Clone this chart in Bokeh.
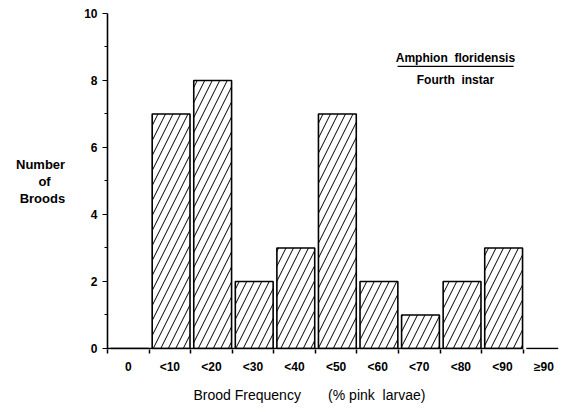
from bokeh.plotting import figure
from bokeh.models import Range1d, FixedTicker, Label, ColumnDataSource, Title
from bokeh.embed import file_html
from bokeh.resources import INLINE

# Broods of Amphion floridensis (fourth instar) by share of pink larvae
categories = ["0", "<10", "<20", "<30", "<40", "<50", "<60", "<70", "<80", "<90", "\u226590"]
broods = [0, 7, 8, 2, 3, 7, 2, 1, 2, 3, 0]
y_ticks = [0, 2, 4, 6, 8, 10]
y_minor = [1, 3, 5, 7, 9]

FONT = "Liberation Sans"

idx = list(range(len(categories)))
centers = [i + 0.5 for i in idx]
src = ColumnDataSource(dict(x=[c + 0.03 for c in centers], top=broods, cat=categories))

p = figure(width=564, height=412, output_backend="svg", toolbar_location=None,
           x_range=Range1d(0, 10.85), y_range=Range1d(-0.03, 10))
p.min_border_left = 107
p.min_border_right = 6
p.min_border_top = 13
p.min_border_bottom = 63
p.outline_line_color = None
p.xgrid.visible = False
p.ygrid.visible = False
p.background_fill_color = "white"
p.border_fill_color = "white"

# hatched bars
p.vbar(x="x", top="top", bottom=0, width=0.91, source=src,
       fill_color="white", line_color="black", line_width=1.6,
       hatch_pattern="/", hatch_scale=15, hatch_weight=1.0, hatch_color="black")

# x axis: labels at slot centres, short ticks at slot boundaries
xa = p.xaxis[0]
xa.ticker = FixedTicker(ticks=centers, minor_ticks=list(range(0, 11)))
xa.major_label_overrides = {c: lab for c, lab in zip(centers, categories)}
xa.axis_line_color = None
xa.major_tick_line_color = None
xa.minor_tick_in = 0
xa.minor_tick_out = 4
xa.minor_tick_line_width = 1.5
xa.minor_tick_line_color = "black"
xa.major_label_standoff = 4
xa.major_label_text_font = FONT
xa.major_label_text_font_style = "bold"
xa.major_label_text_font_size = "12px"
xa.major_label_text_color = "black"

# baseline only across the first ten slots
p.segment(x0=[0], y0=[0], x1=[10], y1=[0], line_color="black", line_width=1.6)

ya = p.yaxis[0]
ya.ticker = FixedTicker(ticks=y_ticks, minor_ticks=y_minor)
ya.axis_line_width = 1.6
ya.axis_line_color = "black"
ya.major_tick_in = 0
ya.major_tick_out = 5
ya.minor_tick_in = 0
ya.minor_tick_out = 3
ya.major_tick_line_width = 1.2
ya.minor_tick_line_width = 1.0
ya.major_label_standoff = 5
ya.major_label_text_font = FONT
ya.major_label_text_font_style = "bold"
ya.major_label_text_font_size = "12px"
ya.major_label_text_color = "black"
# middle line padded so that it sits centred under "Number"
ya.axis_label = "Number\nof\u00a0\u00a0\u00a0\u00a0\nBroods"
ya.axis_label_orientation = "horizontal"
ya.axis_label_standoff = 16
ya.axis_label_text_font = FONT
ya.axis_label_text_font_style = "bold"
ya.axis_label_text_font_size = "13px"
ya.axis_label_text_color = "black"
ya.axis_label_text_align = "center"
ya.axis_label_text_line_height = 1.15

# x axis title, set in its own panel below the tick labels
p.add_layout(Title(text="Brood Frequency\u00a0\u00a0\u00a0\u00a0\u00a0\u00a0 (% pink\u00a0 larvae)",
                   align="left", offset=86, standoff=16, text_font=FONT,
                   text_font_size="14px", text_font_style="normal",
                   text_color="black"), "below")

def lab(x, y, text, size="12px", style="bold", align="center"):
    p.add_layout(Label(x=x, y=y, text=text, text_font=FONT, text_font_size=size,
                       text_font_style=style, text_align=align,
                       text_baseline="middle", text_color="black"))

# species and stage
lab(8.37, 8.66, "Amphion\u00a0 floridensis")
lab(8.37, 8.0, "Fourth\u00a0 instar")
p.segment(x0=[6.98], y0=[8.42], x1=[9.77], y1=[8.42], line_color="black", line_width=1.2)

open("out.html", "w").write(file_html(p, INLINE))
